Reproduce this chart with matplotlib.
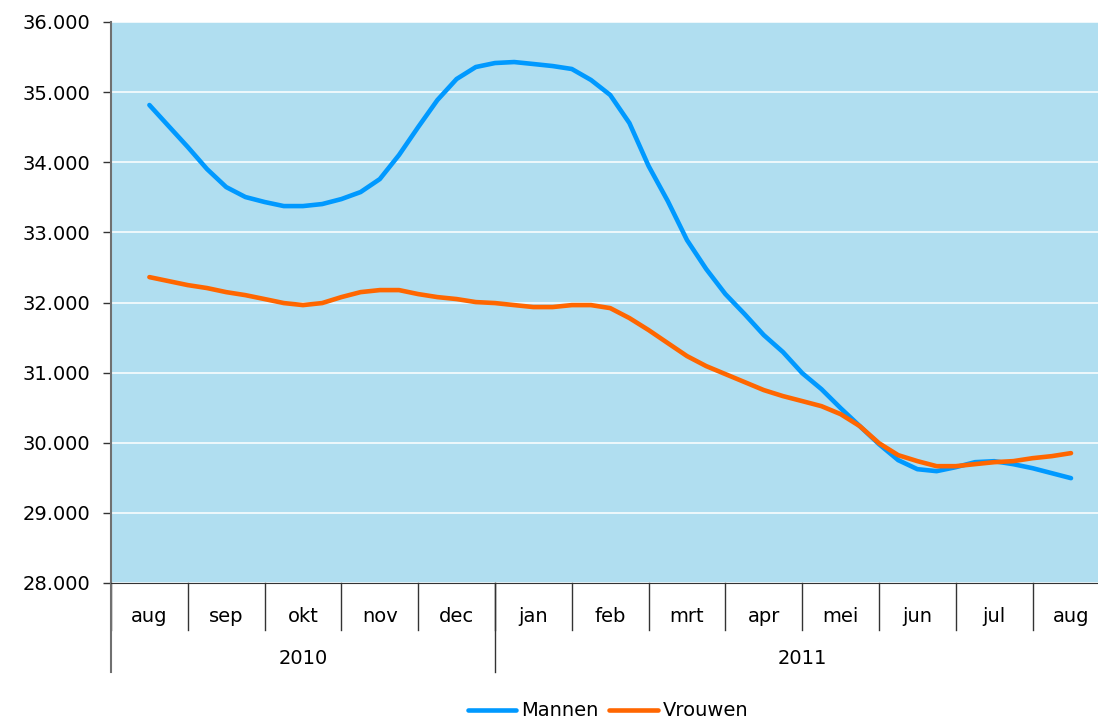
import numpy as np
import matplotlib
matplotlib.use("Agg")
import matplotlib.pyplot as plt
from matplotlib.ticker import FuncFormatter, MultipleLocator

months = ['aug', 'sep', 'okt', 'nov', 'dec', 'jan', 'feb', 'mrt', 'apr', 'mei', 'jun', 'jul', 'aug']
years = ['2010', '2011']
year_span = [(0, 5), (5, 13)]   # month index range per year

# weekly-ish readings, 4 per month, aug 2010 .. aug 2011
mannen = [34816, 34516, 34217, 33903, 33646, 33504, 33433, 33375, 33375, 33404,
          33475, 33575, 33760, 34103, 34502, 34887, 35187, 35358, 35415, 35429,
          35401, 35372, 35330, 35173, 34959, 34559, 33946, 33446, 32890, 32477,
          32120, 31835, 31535, 31293, 30993, 30765, 30494, 30237, 29980, 29752,
          29623, 29595, 29652, 29723, 29737, 29694, 29637, 29566, 29495]
vrouwen = [32362, 32305, 32248, 32206, 32148, 32105, 32049, 31992, 31963, 31992,
           32077, 32148, 32177, 32177, 32120, 32077, 32049, 32006, 31992, 31963,
           31935, 31935, 31963, 31963, 31920, 31778, 31607, 31421, 31236, 31093,
           30979, 30865, 30751, 30665, 30594, 30522, 30408, 30237, 29994, 29823,
           29738, 29666, 29666, 29695, 29723, 29738, 29780, 29809, 29852]

x = np.arange(len(mannen)) * 0.25

fig = plt.figure(figsize=(10.98, 7.24), dpi=100)
# plot area runs slightly past the right edge of the picture, as in the original
ax = fig.add_axes([111/1098, 1-583/724, 998.4/1098, (583-22)/724])
ax.set_facecolor('#B0DEF0')

ax.plot(x, mannen, color='#0099FF', lw=3.3, solid_capstyle='round', label='Mannen', zorder=3)
ax.plot(x, vrouwen, color='#FF6600', lw=3.3, solid_capstyle='round', label='Vrouwen', zorder=4)

ax.set_xlim(-0.5, 12.5)
ax.set_ylim(28000, 36000)
ax.yaxis.set_major_locator(MultipleLocator(1000))
ax.yaxis.set_major_formatter(FuncFormatter(lambda v, p: '{:,.0f}'.format(v).replace(',', '.')))
ax.grid(axis='y', color='white', lw=1.1)
ax.set_axisbelow(True)

for s in ['top', 'right']:
    ax.spines[s].set_visible(False)
ax.spines['left'].set_color('#707070')
ax.spines['left'].set_linewidth(1.5)
ax.spines['bottom'].set_color('#333333')
ax.tick_params(axis='y', length=6, width=1, color='#333333', pad=9, labelsize=14)
ax.set_xticks([])

# category axis: month dividers and labels
tr = ax.get_xaxis_transform()
h = 583 - 22
for i in range(len(months) + 1):
    ax.plot([i - 0.5, i - 0.5], [0, -47/h], transform=tr, color='#333333', lw=1, clip_on=False)
for i, m in enumerate(months):
    ax.text(i, -34/h, m, transform=tr, ha='center', va='center', fontsize=14)
# year row
for (a, b), yr in zip(year_span, years):
    ax.plot([a - 0.5, a - 0.5], [0, -89/h], transform=tr,
            color='#707070' if a == 0 else '#333333', lw=1.5 if a == 0 else 1, clip_on=False)
    ax.text((a + b - 1) / 2, -76/h, yr, transform=tr, ha='center', va='center', fontsize=14)

fig.legend(loc='center', bbox_to_anchor=(608/1098, 1-711/724), ncol=2, frameon=False,
           fontsize=14, handlelength=2.5, handletextpad=0.25, columnspacing=0.55,
           borderaxespad=0)

fig.savefig('out.png', dpi=100)
